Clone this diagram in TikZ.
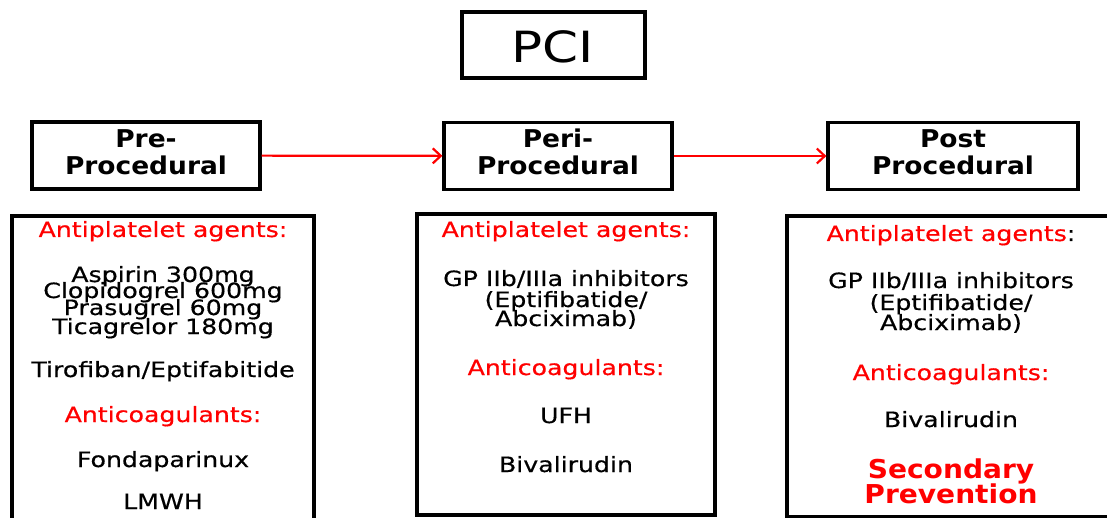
\documentclass[tikz,border=0pt]{standalone}
\usepackage{fontspec}
\setmainfont{DejaVu Sans}[FakeStretch=1.2,FakeBold=0.5]
\newfontfamily\headfont{DejaVu Sans}[FakeStretch=1.08]
\newfontfamily\titlefont{DejaVu Sans}[FakeStretch=1.2]
\usetikzlibrary{arrows.meta}
\usetikzlibrary{positioning}

\begin{document}
\begin{tikzpicture}[x=1pt,y=-1pt,
	box/.style={draw=black,line width=3.2pt,inner sep=0pt},
	txt/.style={anchor=base,inner sep=0pt,font=\fontsize{21}{21}\selectfont},
	lbl/.style={txt,text=red},
	hd/.style={anchor=base,inner sep=0pt,font=\fontsize{24.5}{24.5}\selectfont\headfont\bfseries},
	flow/.style={draw=red,line width=2.2pt,-{Straight Barb[length=8pt,width=15pt]}}]
	\path[use as bounding box,fill=white] (0,0) rectangle (1107,518);
	% title
	\node[box,minimum width=183,minimum height=66] (pci) at (553.5,45) {};
	\node[anchor=base,inner sep=0pt,font=\fontsize{43}{43}\selectfont\titlefont] (pcitext) at (553,63) {PCI};
	% stages
	\node[box,minimum width=228,minimum height=67] (pre) at (146,155.5) {};
	\node[box,minimum width=228,minimum height=67] (peri) at (558,156) {};
	\node[box,minimum width=250,minimum height=67] (post) at (953,156) {};
	\node[hd] (pre1) at (146,148) {Pre-};
	\node[hd] (pre2) at (146,175) {Procedural};
	\node[hd] (peri1) at (558,148) {Peri-};
	\node[hd] (peri2) at (558,175) {Procedural};
	\node[hd] (post1) at (953,148) {Post};
	\node[hd] (post2) at (953,175) {Procedural};
	\draw[flow] (pre) -- (peri);
	\draw[flow] (peri) -- (post);
	% drug lists
	\node[box,minimum width=302,minimum height=306] (prelist) at (163,369) {};
	\node[box,minimum width=298,minimum height=301] (perilist) at (566,364.5) {};
	\node[box,minimum width=328,minimum height=301] (postlist) at (951,366.5) {};
	% pre-procedural
	\node[lbl] (preap) at (163,237) {Antiplatelet agents:};
	\node[txt] (asp) at (163,282) {Aspirin 300mg};
	\node[txt] (clop) at (163,298) {Clopidogrel 600mg};
	\node[txt] (pras) at (163,315) {Prasugrel 60mg};
	\node[txt] (tica) at (163,334) {Ticagrelor 180mg};
	\node[txt] (tiro) at (163,377) {Tirofiban/Eptifabitide};
	\node[lbl] (preac) at (163,422) {Anticoagulants:};
	\node[txt] (fonda) at (163,467) {Fondaparinux};
	\node[txt] (lmwh) at (163,509) {LMWH};
	% peri-procedural
	\node[lbl] (periap) at (566,237) {Antiplatelet agents:};
	\node[txt] (perigp1) at (566,286) {GP IIb/IIIa inhibitors};
	\node[txt] (perigp2) at (566,307) {(Eptifibatide/};
	\node[txt] (perigp3) at (566,326) {Abciximab)};
	\node[lbl] (periac) at (566,375) {Anticoagulants:};
	\node[txt] (ufh) at (566,423) {UFH};
	\node[txt] (peribiv) at (566,472) {Bivalirudin};
	% post procedural
	\node[txt] (postap) at (951,241) {\textcolor{red}{Antiplatelet agents}:};
	\node[txt] (postgp1) at (951,288) {GP IIb/IIIa inhibitors};
	\node[txt] (postgp2) at (951,310) {(Eptifibatide/};
	\node[txt] (postgp3) at (951,330) {Abciximab)};
	\node[lbl] (postac) at (951,380) {Anticoagulants:};
	\node[txt] (postbiv) at (951,427) {Bivalirudin};
	\node[hd,text=red,font=\fontsize{26}{26}\selectfont\headfont\bfseries] (sec1) at (951,478) {Secondary};
	\node[hd,text=red,font=\fontsize{26}{26}\selectfont\headfont\bfseries] (sec2) at (951,503) {Prevention};
\end{tikzpicture}
\end{document}
